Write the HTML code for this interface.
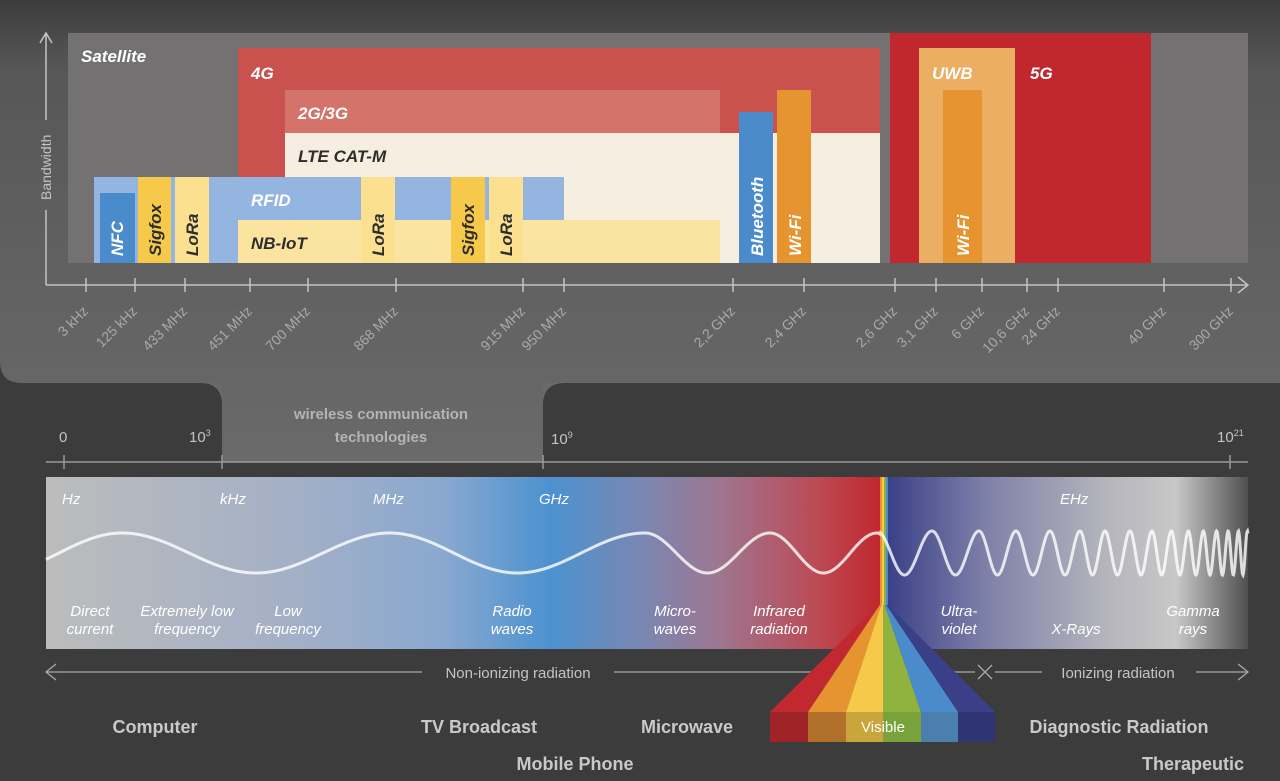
<!DOCTYPE html>
<html><head><meta charset="utf-8"><style>
html,body{margin:0;padding:0;background:#3c3c3c;}
svg{display:block;font-family:"Liberation Sans",sans-serif;}
.b{font-weight:bold;font-style:italic;font-size:17px;}
.t{fill:#a9a9a9;font-size:14px;}
.i{fill:#fff;font-style:italic;font-size:15px;}
.L{fill:#c9c9c9;font-weight:bold;font-size:18px;}
</style></head><body>
<svg id="s" width="1280" height="781" viewBox="0 0 1280 781" xmlns="http://www.w3.org/2000/svg">
<defs>
<linearGradient id="pg" x1="0" y1="0" x2="0" y2="1">
<stop offset="0" stop-color="#3d3d3d"/><stop offset="0.15" stop-color="#575757"/><stop offset="1" stop-color="#6a6a6a"/></linearGradient>
<linearGradient id="band" x1="46" y1="0" x2="1248" y2="0" gradientUnits="userSpaceOnUse">
<stop offset="0" stop-color="#bcbcbc"/>
<stop offset="0.2" stop-color="#a4b0c6"/>
<stop offset="0.33" stop-color="#8aa8cf"/>
<stop offset="0.42" stop-color="#4c92d0"/>
<stop offset="0.5" stop-color="#7c86b0"/>
<stop offset="0.56" stop-color="#9e7690"/>
<stop offset="0.64" stop-color="#bb4b55"/>
<stop offset="0.693" stop-color="#c1282f"/>
<stop offset="0.7" stop-color="#3a4088"/>
<stop offset="0.78" stop-color="#7d7fa8"/>
<stop offset="0.88" stop-color="#b4b4bc"/>
<stop offset="0.94" stop-color="#c8c8c8"/>
<stop offset="1" stop-color="#505050"/>
</linearGradient>
</defs>
<rect width="1280" height="781" fill="#3c3c3c"/>
<path d="M0 0H1280V383H543V462H222V383H22Q0 383 0 361Z" fill="url(#pg)"/>
<path d="M222 383V405Q222 383 200 383Z" fill="#6a6a6a"/>
<path d="M543 383V405Q543 383 565 383Z" fill="#6a6a6a"/>
<rect x="68" y="33" width="1180" height="230" fill="#737171"/>
<rect x="238" y="48" width="642" height="215" fill="#c9524f"/>
<rect x="285" y="90" width="435" height="43" fill="#d4736a"/>
<rect x="285" y="133" width="595" height="130" fill="#f6efe1"/>
<rect x="94" y="177" width="470" height="86" fill="#93b5df"/>
<rect x="238" y="220" width="482" height="43" fill="#fbe3a0"/>
<rect x="100" y="193" width="35" height="70" fill="#4a8ccb"/>
<rect x="138" y="177" width="33" height="86" fill="#f6c94a"/>
<rect x="175" y="177" width="34" height="86" fill="#fbe08f"/>
<rect x="361" y="177" width="34" height="86" fill="#fbe08f"/>
<rect x="451" y="177" width="34" height="86" fill="#f6c94a"/>
<rect x="489" y="177" width="34" height="86" fill="#fbe08f"/>
<rect x="739" y="112" width="34" height="151" fill="#4a8ccb"/>
<rect x="777" y="90" width="34" height="173" fill="#e5942f"/>
<rect x="890" y="33" width="261" height="230" fill="#c0272f"/>
<rect x="919" y="48" width="96" height="215" fill="#ecae62"/>
<rect x="943" y="90" width="39" height="173" fill="#e5942f"/>
<text class="b" x="81" y="62" fill="#fff">Satellite</text>
<text class="b" x="251" y="79" fill="#fff">4G</text>
<text class="b" x="298" y="119" fill="#fff">2G/3G</text>
<text class="b" x="298" y="162" fill="#2d2d2d">LTE CAT-M</text>
<text class="b" x="251" y="206" fill="#fff">RFID</text>
<text class="b" x="251" y="249" fill="#2d2d2d">NB-IoT</text>
<text class="b" x="932" y="79" fill="#fff">UWB</text>
<text class="b" x="1030" y="79" fill="#fff">5G</text>
<g class="b">
<text transform="translate(123,256) rotate(-90)" fill="#fff">NFC</text>
<text transform="translate(161,256) rotate(-90)" fill="#2d2d2d">Sigfox</text>
<text transform="translate(198,256) rotate(-90)" fill="#2d2d2d">LoRa</text>
<text transform="translate(384,256) rotate(-90)" fill="#2d2d2d">LoRa</text>
<text transform="translate(474,256) rotate(-90)" fill="#2d2d2d">Sigfox</text>
<text transform="translate(512,256) rotate(-90)" fill="#2d2d2d">LoRa</text>
<text transform="translate(763,256) rotate(-90)" fill="#fff">Bluetooth</text>
<text transform="translate(801,256) rotate(-90)" fill="#fff">Wi-Fi</text>
<text transform="translate(969,256) rotate(-90)" fill="#fff">Wi-Fi</text>
</g>
<g stroke="#c4c4c4" stroke-width="1.5" fill="none">
<path d="M46 285V210M46 120V33M40 43L46 33L52 43"/>
<path d="M46 285H1248M1238 277L1248 285L1238 293"/>
<path id="tk" d=""/>
</g>
<text transform="translate(51,200) rotate(-90)" fill="#c4c4c4" font-size="14">Bandwidth</text>
<g id="tl" class="t"></g>
<g stroke="#9a9a9a" stroke-width="1.5" fill="none">
<path d="M46 462H1248M64 455V469M222 455V469M543 455V469M1230 455V469"/>
</g>
<g fill="#c4c4c4" font-size="15">
<text x="59" y="442">0</text>
<text x="189" y="442">10<tspan font-size="9" dy="-6">3</tspan></text>
<text x="551" y="444">10<tspan font-size="9" dy="-6">9</tspan></text>
<text x="1217" y="442">10<tspan font-size="9" dy="-6">21</tspan></text>
</g>
<g fill="#b4b4b4" font-weight="bold" font-size="15" text-anchor="middle">
<text x="381" y="419">wireless communication</text>
<text x="381" y="442">technologies</text>
</g>
<rect x="46" y="477" width="1202" height="172" fill="url(#band)"/>
<rect x="878" y="477" width="2" height="128" fill="#c1282f"/>
<rect x="880" y="477" width="2" height="128" fill="#e5942f"/>
<rect x="882" y="477" width="2" height="128" fill="#f6c94a"/>
<rect x="884" y="477" width="2" height="128" fill="#8fb33e"/>
<rect x="886" y="477" width="2" height="128" fill="#4a8ccb"/>
<path id="wave" d="" fill="none" stroke="#fff" stroke-opacity="0.8" stroke-width="3"/>
<g class="i">
<text x="62" y="504">Hz</text><text x="220" y="504">kHz</text><text x="373" y="504">MHz</text>
<text x="539" y="504">GHz</text><text x="1060" y="504">EHz</text>
</g>
<g class="i" text-anchor="middle">
<text x="90" y="616">Direct</text><text x="90" y="634">current</text>
<text x="187" y="616">Extremely low</text><text x="187" y="634">frequency</text>
<text x="288" y="616">Low</text><text x="288" y="634">frequency</text>
<text x="512" y="616">Radio</text><text x="512" y="634">waves</text>
<text x="675" y="616">Micro-</text><text x="675" y="634">waves</text>
<text x="779" y="616">Infrared</text><text x="779" y="634">radiation</text>
<text x="959" y="616">Ultra-</text><text x="959" y="634">violet</text>
<text x="1076" y="634">X-Rays</text>
<text x="1193" y="616">Gamma</text><text x="1193" y="634">rays</text>
</g>
<g stroke="#a8a8a8" stroke-width="1.3" fill="none">
<path d="M46 672H422M56 664L46 672L56 680M614 672H975M978 665L992 679M992 665L978 679M995 672H1042M1196 672H1248M1238 664L1248 672L1238 680"/>
</g>
<text x="518" y="678" fill="#c4c4c4" font-size="15" text-anchor="middle">Non-ionizing radiation</text>
<text x="1118" y="678" fill="#c4c4c4" font-size="15" text-anchor="middle">Ionizing radiation</text>
<polygon points="878,605 879.7,605 808,712 770,712" fill="#c1282f"/>
<polygon points="879.7,605 881.3,605 846,712 808,712" fill="#e5942f"/>
<polygon points="881.3,605 883,605 883,712 846,712" fill="#f6c94a"/>
<polygon points="883,605 884.7,605 921,712 883,712" fill="#8fb33e"/>
<polygon points="884.7,605 886.3,605 958,712 921,712" fill="#4a8ccb"/>
<polygon points="886.3,605 888,605 995,712 958,712" fill="#3a4088"/>
<rect x="770" y="712" width="38" height="30" fill="#a02328"/>
<rect x="808" y="712" width="38" height="30" fill="#b0702a"/>
<rect x="846" y="712" width="37" height="30" fill="#c9a53a"/>
<rect x="883" y="712" width="38" height="30" fill="#7aa23a"/>
<rect x="921" y="712" width="37" height="30" fill="#4a7fae"/>
<rect x="958" y="712" width="37" height="30" fill="#2e3572"/>
<text x="883" y="732" fill="#fff" font-size="15" text-anchor="middle">Visible</text>
<g class="L" text-anchor="middle">
<text x="155" y="733">Computer</text>
<text x="479" y="733">TV Broadcast</text>
<text x="687" y="733">Microwave</text>
<text x="575" y="770">Mobile Phone</text>
<text x="1119" y="733">Diagnostic Radiation</text>
<text x="1193" y="770">Therapeutic</text>
</g>
</svg>
<script>
(function(){
var ticks=[[86,"3 kHz"],[135,"125 kHz"],[185,"433 MHz"],[250,"451 MHz"],[308,"700 MHz"],[396,"868 MHz"],[523,"915 MHz"],[564,"950 MHz"],[733,"2,2 GHz"],[804,"2,4 GHz"],[895,"2,6 GHz"],[936,"3,1 GHz"],[982,"6 GHz"],[1027,"10,6 GHz"],[1058,"24 GHz"],[1164,"40 GHz"],[1231,"300 GHz"]];
var d="",g=document.getElementById("tl"),ns="http://www.w3.org/2000/svg";
ticks.forEach(function(t){d+="M"+t[0]+" 278V292";var e=document.createElementNS(ns,"text");
e.setAttribute("transform","translate("+(t[0]+3)+",312) rotate(-45)");e.setAttribute("text-anchor","end");e.textContent=t[1];g.appendChild(e);});
document.getElementById("tk").setAttribute("d",d);
var peaks=[-130,122,390,645,770,877,932,979,1016,1050,1080,1105];
var p=25,x=1105;while(x<1260){x+=p;peaks.push(x);p=Math.max(5,p*0.88);}
function ph(x){for(var i=0;i<peaks.length-1;i++){if(x<=peaks[i+1]){return 2*Math.PI*(i+(x-peaks[i])/(peaks[i+1]-peaks[i]));}}return 0;}
var s="";for(var xx=46;xx<=1248;xx+=0.5){var a=xx>880?22:20;var y=553-a*Math.cos(ph(xx));s+=(xx==46?"M":"L")+xx+" "+y.toFixed(2);}
document.getElementById("wave").setAttribute("d",s);
})();
</script>
</body></html>
